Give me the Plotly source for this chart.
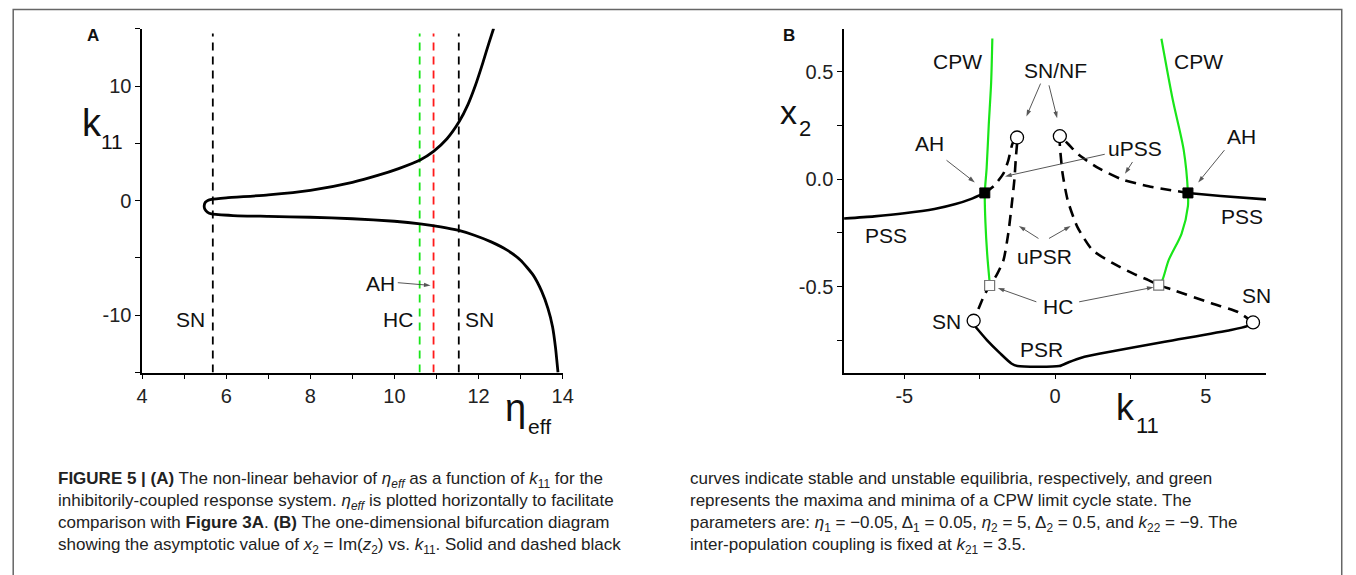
import plotly.graph_objects as go

W, H = 1356, 575

# ---------------- Panel A data (k11 vs eta_eff, ordered along k11) ----------------
a_k11 = [-15.0, -12.8, -11.0, -9.4, -7.9, -6.5, -5.2, -4.3, -3.6, -3.02, -2.6, -2.28, -2.02,
         -1.80, -1.58, -1.45, -1.37, -1.30, -1.16, -1.0, -0.75, -0.46, -0.15, 0.02, 0.12,
         0.25, 0.5, 0.9, 1.6, 2.2, 2.8, 3.55, 4.3, 5.4, 6.9, 8.4, 10.0, 12.0, 13.8, 15.05]
a_eta = [13.89, 13.83, 13.76, 13.65, 13.5, 13.3, 13.0, 12.67, 12.3, 11.9, 11.53, 11.1, 10.61,
         10.0, 9.0, 8.0, 7.0, 6.16, 5.65, 5.55, 5.49, 5.475, 5.5, 5.56, 5.65,
         6.0, 7.0, 8.0, 9.0, 9.6, 10.1, 10.61, 10.93, 11.25, 11.54, 11.75, 11.92, 12.1, 12.25, 12.36]
a_sn_left, a_hc, a_ah, a_sn_right = 5.68, 10.60, 10.93, 11.53
a_vline_k = [-15.0, 14.6]
a_xticks = [4, 6, 8, 10, 12, 14]
a_xticktext = ["4", "6", "8", "10", "12", "14"]
a_yticks = [-10, 0, 10]
a_yticktext = ["-10", "0", "10"]

# ---------------- Panel B data (x2 vs k11) ----------------
b_pss_l_k = [-7.0, -6.0, -5.0, -4.0, -3.3, -2.8, -2.33]
b_pss_l_x = [-0.183, -0.173, -0.159, -0.139, -0.116, -0.093, -0.064]
b_pss_r_k = [4.41, 5.5, 7.0]
b_pss_r_x = [-0.064, -0.078, -0.094]
b_psr_k = [-2.64, -2.26, -1.82, -1.45, -1.25, 0.14, 0.45, 0.9, 1.46, 3.64, 5.83, 6.37, 6.57]
b_psr_x = [-0.687, -0.749, -0.811, -0.858, -0.870, -0.870, -0.852, -0.83, -0.813, -0.757, -0.702, -0.684, -0.667]
b_unst_l_k = [-2.33, -2.04, -1.71, -1.55, -1.41, -1.26, -1.30, -1.35, -1.42, -1.55, -1.71, -1.94,
              -2.17, -2.37, -2.70]
b_unst_l_x = [-0.064, -0.033, 0.027, 0.088, 0.166, 0.194, 0.10, -0.005, -0.098, -0.251, -0.377,
              -0.447, -0.495, -0.547, -0.659]
b_unst_r_k = [6.57, 6.05, 5.19, 3.86, 3.44, 3.1, 2.6, 1.9, 1.24, 0.74, 0.42, 0.25, 0.16, 0.16,
              0.42, 0.8, 1.46, 2.22, 3.1, 3.8, 4.41]
b_unst_r_x = [-0.667, -0.617, -0.578, -0.513, -0.493, -0.47, -0.44, -0.39, -0.33, -0.222, -0.098,
              0.027, 0.158, 0.2, 0.166, 0.112, 0.05, -0.001, -0.033, -0.05, -0.064]
b_cpw_l_k = [-2.08, -2.12, -2.20, -2.27, -2.33, -2.31, -2.25, -2.17]
b_cpw_l_x = [0.655, 0.45, 0.25, 0.05, -0.064, -0.2, -0.35, -0.48]
b_cpw_r_k = [3.53, 3.91, 4.27, 4.41, 4.41, 4.2, 3.77, 3.56, 3.44]
b_cpw_r_x = [0.654, 0.367, 0.135, -0.064, -0.125, -0.253, -0.377, -0.47, -0.493]
b_ah_k = [-2.33, 4.41]
b_ah_x = [-0.064, -0.064]
b_hc_k = [-2.17, 3.44]
b_hc_x = [-0.495, -0.493]
b_sn_k = [-1.26, 0.16, -2.70, 6.57]
b_sn_x = [0.194, 0.2, -0.659, -0.667]
b_xticks = [-5, 0, 5]
b_xticktext = ["-5", "0", "5"]
b_yticks = [-0.5, 0.0, 0.5]
b_yticktext = ["-0.5", "0.0", "0.5"]


def px(x):
    return x / W


def py(y):
    return 1 - y / H


FONT = "Liberation Sans, Arial, sans-serif"
fig = go.Figure()

# ---- Panel A traces ----
for v, col in [(a_sn_left, "black"), (a_hc, "#19e619"), (a_ah, "#ff1a1a"), (a_sn_right, "black")]:
    fig.add_trace(go.Scatter(x=[v, v], y=a_vline_k, mode="lines", xaxis="x", yaxis="y",
                             line=dict(color=col, width=1.8, dash="8px,6px"), hoverinfo="skip"))
fig.add_trace(go.Scatter(x=a_eta, y=a_k11, mode="lines", xaxis="x", yaxis="y",
                         line=dict(color="black", width=2.8, shape="spline", smoothing=0.5)))

# ---- Panel B traces ----
for kk, xx in [(b_cpw_l_k, b_cpw_l_x), (b_cpw_r_k, b_cpw_r_x)]:
    fig.add_trace(go.Scatter(x=kk, y=xx, mode="lines", xaxis="x2", yaxis="y2",
                             line=dict(color="#19e619", width=2.2, shape="spline", smoothing=0.8)))
for kk, xx in [(b_pss_l_k, b_pss_l_x), (b_pss_r_k, b_pss_r_x), (b_psr_k, b_psr_x)]:
    fig.add_trace(go.Scatter(x=kk, y=xx, mode="lines", xaxis="x2", yaxis="y2",
                             line=dict(color="black", width=2.6, shape="spline", smoothing=0.6)))
for kk, xx in [(b_unst_l_k, b_unst_l_x), (b_unst_r_k, b_unst_r_x)]:
    fig.add_trace(go.Scatter(x=kk, y=xx, mode="lines", xaxis="x2", yaxis="y2",
                             line=dict(color="black", width=2.6, dash="11px,7px",
                                       shape="spline", smoothing=0.6)))
fig.add_trace(go.Scatter(x=b_hc_k, y=b_hc_x, mode="markers", xaxis="x2", yaxis="y2",
                         marker=dict(symbol="square", size=10, color="white",
                                     line=dict(color="#777", width=1.2))))
fig.add_trace(go.Scatter(x=b_ah_k, y=b_ah_x, mode="markers", xaxis="x2", yaxis="y2",
                         marker=dict(symbol="square", size=10, color="black",
                                     line=dict(color="black", width=1))))
fig.add_trace(go.Scatter(x=b_sn_k, y=b_sn_x, mode="markers", xaxis="x2", yaxis="y2",
                         marker=dict(symbol="circle", size=13, color="white",
                                     line=dict(color="black", width=1.3))))


def arrow(xa, ya, x0, y0, x1, y1):
    """Thin pointer line with a small arrowhead at (x1, y1)."""
    fig.add_trace(go.Scatter(x=[x0, x1], y=[y0, y1], mode="lines+markers", xaxis=xa, yaxis=ya,
                             line=dict(color="#444", width=0.9), hoverinfo="skip",
                             marker=dict(symbol="arrow", size=[0, 7], angleref="previous",
                                         color="#111", line=dict(width=0))))


axis_common = dict(showline=True, linecolor="black", linewidth=1.5, showgrid=False,
                   zeroline=False, ticks="outside", ticklen=5, tickwidth=1.2,
                   tickcolor="black", tickmode="array",
                   tickfont=dict(family=FONT, size=20, color="#222"))

fig.update_layout(
    width=W, height=H, margin=dict(l=0, r=0, t=0, b=0),
    paper_bgcolor="white", plot_bgcolor="white", showlegend=False,
    xaxis=dict(domain=[px(137.9), px(563.7)], range=[4, 14], anchor="y",
               tickvals=a_xticks, ticktext=a_xticktext,
               minor=dict(tickmode="linear", tick0=4, dtick=1, ticks="outside",
                          ticklen=5, tickwidth=1.2, tickcolor="black"),
               **axis_common),
    yaxis=dict(domain=[py(372.5), py(28.8)], range=[-15, 15], anchor="x",
               tickvals=a_yticks, ticktext=a_yticktext,
               minor=dict(tickmode="linear", tick0=0, dtick=5, ticks="outside",
                          ticklen=5, tickwidth=1.2, tickcolor="black"),
               **axis_common),
    xaxis2=dict(domain=[px(848.7), px(1276)], range=[-7, 7], anchor="y2",
                tickvals=b_xticks, ticktext=b_xticktext,
                minor=dict(tickmode="linear", tick0=0, dtick=2.5, ticks="outside",
                           ticklen=5, tickwidth=1.2, tickcolor="black"),
                **axis_common),
    yaxis2=dict(domain=[py(372.5), py(28.8)], range=[-0.9, 0.7], anchor="x2",
                tickvals=b_yticks, ticktext=b_yticktext,
                minor=dict(tickmode="linear", tick0=0, dtick=0.25, ticks="outside",
                           ticklen=5, tickwidth=1.2, tickcolor="black"),
                **axis_common),
)

ann = []


def paper_text(x, y, text, size, bold=False, xanchor="center", yanchor="middle",
               color="#111", align="center"):
    t = f"<b>{text}</b>" if bold else text
    ann.append(dict(x=px(x), y=py(y), xref="paper", yref="paper", text=t, showarrow=False,
                    xanchor=xanchor, yanchor=yanchor, align=align,
                    font=dict(family=FONT, size=size, color=color)))


def data_text(xr, yr, x, y, text, size=21):
    ann.append(dict(x=x, y=y, xref=xr, yref=yr, text=text, showarrow=False,
                    xanchor="center", yanchor="middle",
                    font=dict(family=FONT, size=size, color="#111")))


# panel letters and axis titles
paper_text(88, 35.8, "A", 17, bold=True)
paper_text(793, 35.5, "B", 17, bold=True)
paper_text(86.7, 123.4, "k", 38)
paper_text(107.6, 141, "11", 21)
paper_text(516, 408, "η", 38)
paper_text(540.5, 426, "eff", 21)
paper_text(792.4, 112.5, "x", 34)
paper_text(809, 129, "2", 22)
paper_text(1134, 408, "k", 36)
paper_text(1156, 425, "11", 22)

# Panel A labels
data_text("x", "y", 5.16, -10.36, "SN")
data_text("x", "y", 10.08, -10.36, "HC")
data_text("x", "y", 12.02, -10.36, "SN")
data_text("x", "y", 9.67, -7.27, "AH")
arrow("x", "y", 10.08, -7.16, 10.86, -7.4)

# Panel B labels
data_text("x2", "y2", -3.25, 0.546, "CPW")
data_text("x2", "y2", 4.77, 0.546, "CPW")
data_text("x2", "y2", 0.02, 0.507, "SN/NF")
arrow("x2", "y2", -0.48, 0.445, -0.95, 0.292)
arrow("x2", "y2", -0.2, 0.437, 0.07, 0.284)
data_text("x2", "y2", -4.17, 0.166, "AH")
arrow("x2", "y2", -3.6, 0.088, -2.66, -0.015)
data_text("x2", "y2", 6.19, 0.197, "AH")
arrow("x2", "y2", 5.62, 0.135, 4.75, -0.015)
data_text("x2", "y2", 2.64, 0.143, "uPSS")
arrow("x2", "y2", 1.65, 0.116, -1.66, 0.013)
arrow("x2", "y2", 2.57, 0.08, 2.32, 0.025)
data_text("x2", "y2", -0.34, -0.361, "uPSR")
arrow("x2", "y2", -0.55, -0.276, -1.2, -0.218)
arrow("x2", "y2", -0.2, -0.276, 0.52, -0.218)
data_text("x2", "y2", 0.09, -0.594, "HC")
arrow("x2", "y2", -0.62, -0.571, -1.9, -0.507)
arrow("x2", "y2", 0.8, -0.571, 3.27, -0.503)
data_text("x2", "y2", -3.6, -0.664, "SN")
data_text("x2", "y2", 6.68, -0.54, "SN")
data_text("x2", "y2", -5.62, -0.26, "PSS")
data_text("x2", "y2", 6.21, -0.175, "PSS")
data_text("x2", "y2", -0.45, -0.792, "PSR")

# caption
cap_left = [
    "<b>FIGURE 5 | (A)</b> The non-linear behavior of <i>η<sub>eff</sub></i> as a function of <i>k</i><sub>11</sub> for the",
    "inhibitorily-coupled response system. <i>η<sub>eff</sub></i> is plotted horizontally to facilitate",
    "comparison with <b>Figure 3A</b>. <b>(B)</b> The one-dimensional bifurcation diagram",
    "showing the asymptotic value of <i>x</i><sub>2</sub> = Im(<i>z</i><sub>2</sub>) vs. <i>k</i><sub>11</sub>. Solid and dashed black",
]
cap_right = [
    "curves indicate stable and unstable equilibria, respectively, and green",
    "represents the maxima and minima of a CPW limit cycle state. The",
    "parameters are: <i>η</i><sub>1</sub> = −0.05, Δ<sub>1</sub> = 0.05, <i>η</i><sub>2</sub> = 5, Δ<sub>2</sub> = 0.5, and <i>k</i><sub>22</sub> = −9. The",
    "inter-population coupling is fixed at <i>k</i><sub>21</sub> = 3.5.",
]
paper_text(51, 467, "<br>".join(cap_left), 17, xanchor="left", yanchor="top",
           color="#222", align="left")
paper_text(691, 467, "<br>".join(cap_right), 17, xanchor="left", yanchor="top",
           color="#222", align="left")

fig.update_layout(annotations=ann)

# outer frame
fig.add_shape(type="rect", xref="paper", yref="paper", x0=px(7.3), x1=px(1352.7),
              y0=-0.05, y1=py(9.5), line=dict(color="#666", width=1.5))

fig.write_html("out.html")
